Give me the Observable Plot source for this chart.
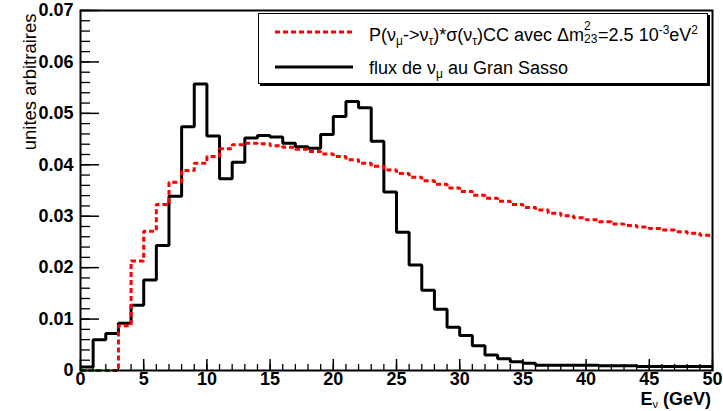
<!DOCTYPE html>
<html><head><meta charset="utf-8">
<script src="https://cdn.jsdelivr.net/npm/d3@7"></script>
<script src="https://cdn.jsdelivr.net/npm/@observablehq/plot@0.6"></script>
<style>
html,body{margin:0;padding:0;background:#fff;}
#wrap{position:relative;width:723px;height:411px;font-family:"Liberation Sans",Arial,sans-serif;color:#000;}
#legend{position:absolute;left:258px;top:13px;width:450px;height:71px;box-sizing:border-box;border:1.5px solid #000;background:#fff;box-shadow:2px 2px 0 #000;}
.row{position:absolute;left:0;height:30px;font-size:18px;line-height:18px;white-space:nowrap;}
.row svg{position:absolute;left:15px;top:0;}
.txt{position:absolute;left:110px;top:6px;}
.sub{font-size:12px;vertical-align:-4px;line-height:1;}
.sup{font-size:12px;vertical-align:7px;line-height:1;}
.ss{display:inline-block;position:relative;width:14px;height:12px;font-size:12px;line-height:12px;vertical-align:0;}
.ss .a{position:absolute;left:0;top:-9px;}
.ss .b{position:absolute;left:0;top:4px;}
#xtitle{position:absolute;right:12px;top:393px;font-weight:bold;font-size:18px;line-height:13px;white-space:nowrap;}
#xtitle .nu{font-size:11px;font-weight:normal;vertical-align:-3px;line-height:1;}
</style>
</head><body>
<div id="wrap">
  <div id="chart"></div>
  <div id="legend">
    <div class="row" style="top:4px;">
      <svg width="80" height="30"><line x1="1" y1="14" x2="79" y2="14" stroke="#ff0000" stroke-width="3" stroke-dasharray="5,3"/></svg>
      <span class="txt">P(ν<span class="sub">μ</span>-&gt;ν<span class="sub">τ</span>)*σ(ν<span class="sub">τ</span>)CC avec Δm<span class="ss"><span class="a">2</span><span class="b">23</span></span>=2.5 10<span class="sup">-3</span>eV<span class="sup">2</span></span>
    </div>
    <div class="row" style="top:39px;">
      <svg width="80" height="30"><line x1="1" y1="14" x2="79" y2="14" stroke="#000" stroke-width="3"/></svg>
      <span class="txt">flux de ν<span class="sub">μ</span> au Gran Sasso</span>
    </div>
  </div>
  <div id="xtitle">E<span class="nu">ν</span> (GeV)</div>
</div>
<script>
// Bin edges (GeV), 1 GeV bins from 0 to 50
const binEdges = d3.range(0, 51, 1);

// Black histogram: flux de nu_mu au Gran Sasso (per bin)
const fluxValues = [
  0.0007, 0.0060, 0.0072, 0.0092, 0.0127, 0.0176, 0.0243, 0.0339, 0.0474, 0.0557,
  0.0456, 0.0373, 0.0405, 0.0452, 0.0457, 0.0454, 0.0442, 0.0435, 0.0432, 0.0459,
  0.0494, 0.0523, 0.0511, 0.0446, 0.0347, 0.0269, 0.0205, 0.0156, 0.0119, 0.0084,
  0.0068, 0.0048, 0.0030, 0.0023, 0.0017, 0.0014, 0.0010, 0.0010, 0.0010, 0.0010,
  0.0010, 0.0009, 0.0009, 0.0009, 0.0008, 0.0008, 0.0008, 0.0008, 0.0008, 0.0008
];

// Red dashed histogram: P(nu_mu -> nu_tau) * sigma(nu_tau) CC
const oscValues = [
  0, 0, 0, 0.0087, 0.0213, 0.0271, 0.0323, 0.0366, 0.0389, 0.0403,
  0.0416, 0.0431, 0.0439, 0.0442, 0.0441, 0.0437, 0.0434, 0.0430, 0.0426, 0.0421,
  0.0416, 0.0410, 0.0403, 0.0397, 0.0390, 0.0383, 0.0376, 0.0369, 0.0362, 0.0355,
  0.0348, 0.0341, 0.0335, 0.0329, 0.0323, 0.0317, 0.0312, 0.0306, 0.0301, 0.0297,
  0.0293, 0.0289, 0.0285, 0.0282, 0.0279, 0.0276, 0.0273, 0.0270, 0.0267, 0.0263
];

const yMajorTicks = [0, 0.01, 0.02, 0.03, 0.04, 0.05, 0.06, 0.07];
const yMinorTicks = d3.range(0, 0.0701, 0.002);
const xMajorTicks = [0, 5, 10, 15, 20, 25, 30, 35, 40, 45, 50];
const xMinorTicks = d3.range(0, 51, 1);

const yTitle = "unites arbitraires";

function toSteps(values) {
  const pts = values.map((v, i) => ({x: binEdges[i], y: v}));
  pts.push({x: binEdges[values.length], y: values[values.length - 1]});
  return pts;
}
const fluxSteps = toSteps(fluxValues);
const oscSteps = toSteps(oscValues);

const yFmt = d => d === 0 ? "0" : d.toFixed(2);
const blank = () => "";

const chart = Plot.plot({
  width: 723,
  height: 411,
  marginLeft: 80,
  marginRight: 11,
  marginTop: 10,
  marginBottom: 41,
  x: {domain: [0, 50]},
  y: {domain: [0, 0.07]},
  style: {fontFamily: "'Liberation Sans', Arial, sans-serif", background: "#fff", overflow: "visible", color: "#000"},
  marks: [
    Plot.axisY(yMinorTicks, {tickSize: -10, tickFormat: blank, label: null, strokeWidth: 1.3}),
    Plot.axisY(yMajorTicks, {tickSize: -19, tickFormat: blank, label: null, strokeWidth: 1.5}),
    Plot.axisY(yMajorTicks, {tickSize: 0, tickPadding: 7, tickFormat: yFmt, label: null, fontSize: 18, fontWeight: "bold"}),
    Plot.axisX(xMinorTicks, {tickSize: -6, tickFormat: blank, label: null, strokeWidth: 1.3}),
    Plot.axisX(xMajorTicks, {tickSize: -11, tickFormat: blank, label: null, strokeWidth: 1.5}),
    Plot.axisX(xMajorTicks, {tickSize: 0, tickPadding: 2, tickFormat: d => String(d), label: null, fontSize: 18, fontWeight: "bold"}),
    Plot.line(fluxSteps, {x: "x", y: "y", curve: "step-after", stroke: "#000", strokeWidth: 3, strokeLinejoin: "miter", strokeLinecap: "butt"}),
    Plot.line(oscSteps, {x: "x", y: "y", curve: "step-after", stroke: "#ff0000", strokeWidth: 3, strokeDasharray: "5,3", strokeLinejoin: "miter", strokeLinecap: "butt"}),
    Plot.frame({stroke: "#000", strokeWidth: 2}),
    Plot.text([yTitle], {frameAnchor: "top-left", rotate: -90, textAnchor: "end", dx: -58, dy: 3, fontSize: 18.5, fill: "#000"})
  ]
});
document.getElementById("chart").appendChild(chart);
</script>
</body></html>
